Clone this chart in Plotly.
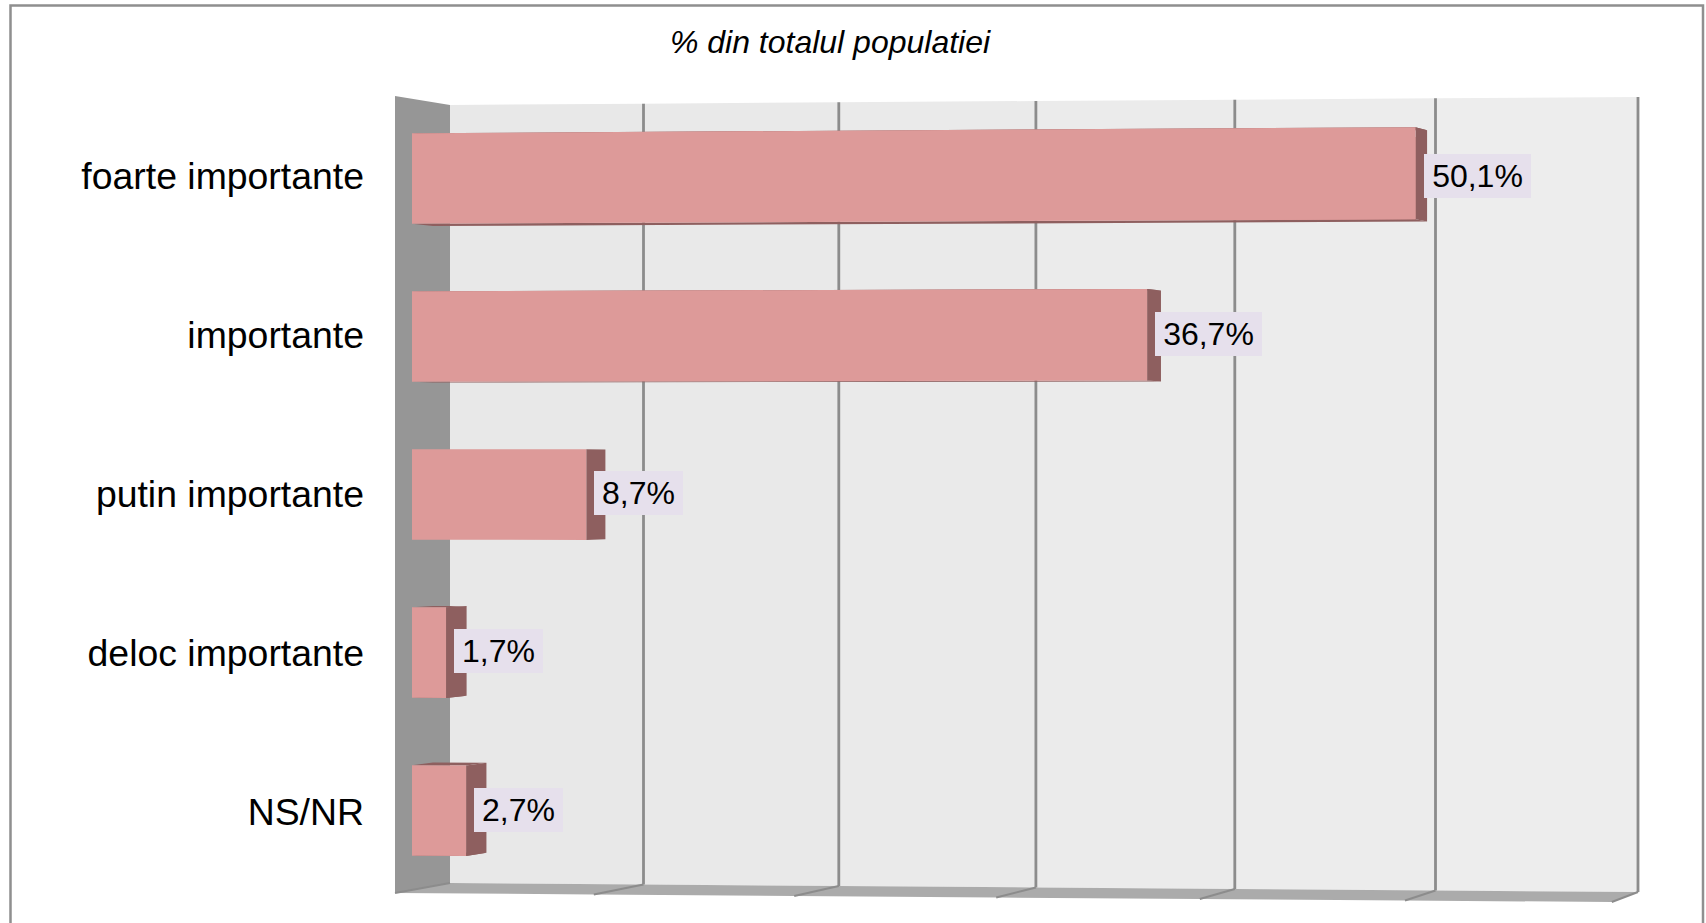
import plotly.graph_objects as go

categories = ["foarte importante", "importante", "putin importante", "deloc importante", "NS/NR"]
values = [50.1, 36.7, 8.7, 1.7, 2.7]
axis_ticks = [0, 10, 20, 30, 40, 50, 60]
title_text = "<i>% din totalul populatiei</i>"

W, H = 1706, 923
L, R = 375, 1660
FONT = "Liberation Sans"
BAR = "#dd9a99"
SIDE = "#8e5f5f"
SIDE_WALL = "#969696"
FLOOR = "#ababab"
GRID = "#8c8c8c"
LABEL_BG = "#e6e0ec"
PANELS = ["#e8e8e8", "#e9e9e9", "#eaeaea", "#ebebeb", "#ececec", "#ededed"]

# scale of the bar plane, in pixels
X0, XS = 412.0, 20.03
Y0, YS = 178.5, 158.0
D_BAR, D_BACK = 0.32, 0.70
BAR_H = 90.5


def ax_x(px):
    return (px - X0) / XS


def ax_y(py):
    return (py - Y0) / YS


def wall_x(v, d):
    front = 395 + 20.28 * v - 0.008 * v * (60 - v)
    back = 450 + 19.8 * v - 0.009 * v * (60 - v)
    return ax_x(front * (1 - d) + back * d)


def y_top(v, d):
    return 96 + 9 * d - 0.1333 * v


def y_bot(v, d):
    return 893 - 10 * d + 0.15 * v


def wall_y(v, s, d):
    return ax_y(y_top(v, d) + s * (y_bot(v, d) - y_top(v, d)))


def frac(py):
    return (py - y_top(0, D_BAR)) / (y_bot(0, D_BAR) - y_top(0, D_BAR))


def bar_x(v, d):
    return v + wall_x(v, d) - wall_x(v, D_BAR)


def path(points):
    return "M" + "L".join(f"{x:.4f},{y:.4f}" for x, y in points) + "Z"


shapes = []
# back wall panels
for a, b, col in zip(axis_ticks[:-1], axis_ticks[1:], PANELS):
    shapes.append(dict(type="path", layer="below", line_width=0, fillcolor=col, path=path([
        (wall_x(a, 1), wall_y(a, 0, 1)), (wall_x(b, 1), wall_y(b, 0, 1)),
        (wall_x(b, 1), wall_y(b, 1, 1)), (wall_x(a, 1), wall_y(a, 1, 1))])))
# floor
for a, b in zip(axis_ticks[:-1], axis_ticks[1:]):
    shapes.append(dict(type="path", layer="below", line_width=0, fillcolor=FLOOR, path=path([
        (wall_x(a, 0), wall_y(a, 1, 0)), (wall_x(a, 1), wall_y(a, 1, 1)),
        (wall_x(b, 1), wall_y(b, 1, 1)), (wall_x(b, 0), wall_y(b, 1, 0))])))
vmin, vmax = axis_ticks[0], axis_ticks[-1]
# side wall
shapes.append(dict(type="path", layer="below", line_width=0, fillcolor=SIDE_WALL, path=path([
    (wall_x(vmin, 0), wall_y(vmin, 0, 0)), (wall_x(vmin, 1), wall_y(vmin, 0, 1)),
    (wall_x(vmin, 1), wall_y(vmin, 1, 1)), (wall_x(vmin, 0), wall_y(vmin, 1, 0))])))
# grid lines on back wall and floor
for t in axis_ticks:
    if t != vmin:
        shapes.append(dict(type="line", layer="below", line=dict(color=GRID, width=2.8),
                           x0=wall_x(t, 1), x1=wall_x(t, 1), y0=wall_y(t, 0, 1), y1=wall_y(t, 1, 1)))
    shapes.append(dict(type="line", layer="below", line=dict(color=GRID, width=2),
                       x0=wall_x(t, 0), x1=wall_x(t, 1), y0=wall_y(t, 1, 0), y1=wall_y(t, 1, 1)))
# outer frame
shapes.append(dict(type="rect", xref="paper", yref="paper", layer="above",
                   x0=(10.5 - L) / (R - L), x1=(1703 - L) / (R - L), y0=-0.02, y1=1 - 5.5 / H,
                   line=dict(color="#8f8f8f", width=2.5), fillcolor="rgba(0,0,0,0)"))

ypos = list(range(len(categories)))
tick_pos = [ax_y(176.3 + 158.8 * i) for i in ypos]
label_pos = [ax_y(175.5 + 158.5 * i) for i in ypos]

fig = go.Figure()
fig.add_trace(go.Bar(y=ypos, x=values, orientation="h", width=0.52,
                     marker=dict(color=BAR, line_width=0), hoverinfo="skip", showlegend=False))


def poly(points, color):
    fig.add_trace(go.Scatter(x=[p[0] for p in points] + [points[0][0]],
                             y=[p[1] for p in points] + [points[0][1]],
                             mode="lines", fill="toself", fillcolor=color, line_width=0,
                             hoverinfo="skip", showlegend=False))


for i, v in zip(ypos, values):
    top0 = Y0 + YS * i - BAR_H / 2
    bot0 = Y0 + YS * i + BAR_H / 2
    st, sb = frac(top0), frac(bot0)
    # top, bottom and end faces, then the front
    poly([(0, wall_y(0, st, D_BAR)), (v, wall_y(v, st, D_BAR)),
          (bar_x(v, D_BACK), wall_y(v, st, D_BACK)), (bar_x(0, D_BACK), wall_y(0, st, D_BACK))], SIDE)
    poly([(0, wall_y(0, sb, D_BAR)), (v, wall_y(v, sb, D_BAR)),
          (bar_x(v, D_BACK), wall_y(v, sb, D_BACK)), (bar_x(0, D_BACK), wall_y(0, sb, D_BACK))], SIDE)
    poly([(v, wall_y(v, st, D_BAR)), (bar_x(v, D_BACK), wall_y(v, st, D_BACK)),
          (bar_x(v, D_BACK), wall_y(v, sb, D_BACK)), (v, wall_y(v, sb, D_BAR))], SIDE)
    poly([(0, wall_y(0, st, D_BAR)), (v, wall_y(v, st, D_BAR)),
          (v, wall_y(v, sb, D_BAR)), (0, wall_y(0, sb, D_BAR))], BAR)

annotations = [
    dict(x=v, y=y, xref="x", yref="y", xanchor="left", yanchor="middle", xshift=8,
         text=f"{v:.1f}".replace(".", ",") + "%", showarrow=False, bgcolor=LABEL_BG,
         borderwidth=0, borderpad=4, width=99 if v >= 10 else 81, align="center",
         font=dict(family=FONT, size=32, color="#000000"))
    for y, v in zip(label_pos, values)
]

fig.update_layout(
    width=W, height=H, autosize=False,
    margin=dict(l=L, r=W - R, t=0, b=0, pad=0),
    paper_bgcolor="#ffffff", plot_bgcolor="rgba(0,0,0,0)",
    title=dict(text=title_text, x=830 / W, y=1 - 42 / H, xref="container", yref="container",
               xanchor="center", yanchor="middle",
               font=dict(family=FONT, size=32, color="#000000")),
    xaxis=dict(range=[ax_x(L), ax_x(R)], showgrid=False, zeroline=False, showline=False,
               showticklabels=False, ticks="", fixedrange=True),
    yaxis=dict(range=[ax_y(H), ax_y(0)], tickmode="array", tickvals=tick_pos, ticktext=categories,
               showgrid=False, zeroline=False, showline=False, ticks="", ticklabelstandoff=10,
               tickfont=dict(family=FONT, size=37.4, color="#000000"), fixedrange=True),
    shapes=shapes, annotations=annotations, showlegend=False, bargap=0,
)
fig.write_html("out.html", config=dict(displayModeBar=False),
               post_script="document.body.style.margin='0';document.body.style.overflow='hidden';")
